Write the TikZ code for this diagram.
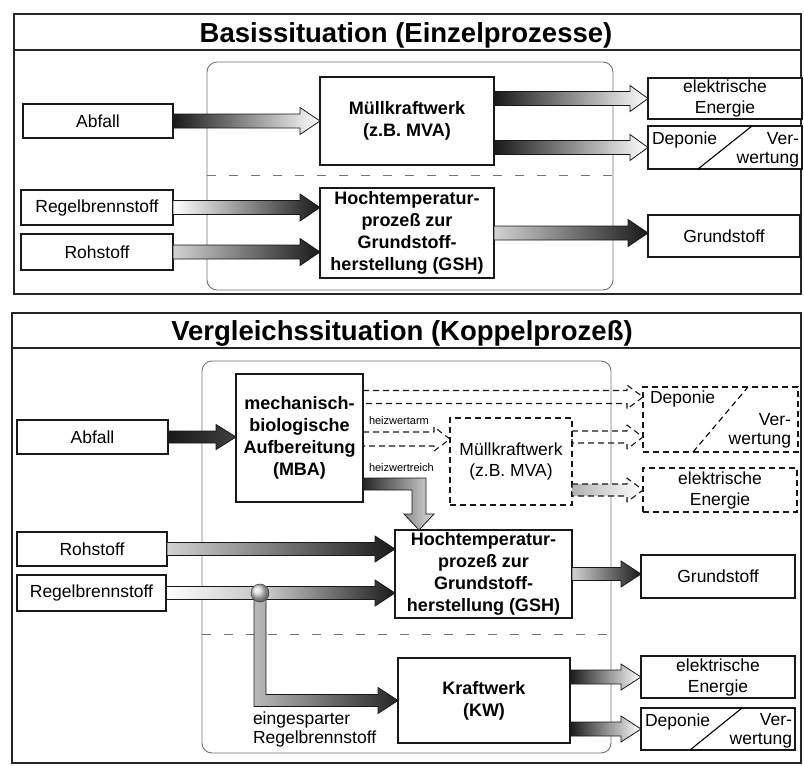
\documentclass[tikz,border=0pt]{standalone}
\usepackage{fontspec}
\setmainfont{Liberation Sans}
\usetikzlibrary{calc}
\newcommand\fatarr[6][]{%
  \path[#1] ($(#2)+(0,-#4)$) -- ($(#3)+(-#6,-#4)$) -- ($(#3)+(-#6,-#5)$) -- (#3)
   -- ($(#3)+(-#6,#5)$) -- ($(#3)+(-#6,#4)$) -- ($(#2)+(0,#4)$) -- cycle;}
\begin{document}
\begin{tikzpicture}[x=1pt,y=-1pt,
  every node/.style={inner sep=0pt,outer sep=0pt},
  panel/.style={draw=black!85,line width=1.4pt},
  bound/.style={draw=black!55,line width=0.9pt,rounded corners=10pt},
  sepline/.style={draw=black!55,line width=1pt,dash pattern=on 9pt off 13pt},
  inbox/.style={draw=black!90,line width=1.3pt,fill=white,font=\fontsize{17.5}{21}\selectfont,align=center},
  procbox/.style={draw=black!90,line width=2.4pt,fill=white,font=\bfseries\fontsize{18}{22}\selectfont,align=center},
  dbox/.style={draw=black!90,line width=1.1pt,dash pattern=on 6pt off 4pt,font=\fontsize{17.5}{21}\selectfont,align=center},
  ttl/.style={font=\bfseries\fontsize{27.5}{32}\selectfont,anchor=base},
  lbl/.style={font=\fontsize{17.5}{19}\selectfont,align=left},
  smalllbl/.style={font=\fontsize{11}{13}\selectfont},
  fat/.style={draw=black!90,line width=0.8pt,line join=miter},
  d2l/.style={fat,left color=black!90,right color=white},
  l2d/.style={fat,left color=gray!35,right color=black!90},
  darr/.style={draw=black!90,line width=1.1pt,dash pattern=on 6pt off 4pt,line join=round},
]
\useasboundingbox (0,0) rectangle (804,766);
% panels
\draw[panel] (14,14) rectangle (801,294);
\draw[panel] (14,50) -- (801,50);
\draw[panel] (12,313) rectangle (801,763);
\draw[panel] (12,348) -- (801,348);
\node[ttl] (t1) at (406,42) {Basissituation (Einzelprozesse)};
\node[ttl] (t2) at (402,340) {Vergleichssituation (Koppelprozeß)};
% system boundaries
\draw[bound] (207,62) rectangle (613,290);
\draw[sepline] (207,175) -- (613,175);
\draw[bound] (202,361) rectangle (611,753);
\draw[sepline] (202,634) -- (611,634);

% ---------- top panel ----------
\node[inbox,minimum width=150,minimum height=34] (abf1) at (98,121) {Abfall};
\node[inbox,minimum width=152,minimum height=35] (rb1) at (97,207.5) {Regelbrennstoff};
\node[inbox,minimum width=152,minimum height=36] (rh1) at (97,252) {Rohstoff};
\node[procbox,minimum width=174,minimum height=88] (mkw1) at (407,121) {Müllkraftwerk\\(z.B. MVA)};
\node[procbox,minimum width=174,minimum height=90] (hts1) at (407,233) {Hochtemperatur-\\prozeß zur\\Grundstoff-\\herstellung (GSH)};
\node[inbox,minimum width=154,minimum height=41] (en1) at (725,98.5) {elektrische\\Energie};
\node[inbox,minimum width=154,minimum height=43] (dep1) at (725,147.5) {};
\draw[line width=1.1pt] ($(dep1.south west)+(50,0)$) -- ($(dep1.north west)+(104,0)$);
\node[lbl,anchor=north west] (dep1a) at ($(dep1.north west)+(4,6)$) {Deponie};
\node[lbl,anchor=south east,align=right] (dep1b) at ($(dep1.south east)+(-3,-2)$) {Ver-\\wertung};
\node[inbox,minimum width=152,minimum height=42] (gs1) at (724,236) {Grundstoff};

\fatarr[d2l]{abf1.east}{mkw1.west |- abf1.east}{7}{13.5}{20}
\fatarr[d2l]{mkw1.east |- en1.west}{en1.west}{7}{13}{18}
\fatarr[d2l]{mkw1.east |- dep1.west}{dep1.west}{7}{13}{18}
\fatarr[fat,left color=white,middle color=gray!35,right color=black!90]{rb1.east}{hts1.west |- rb1.east}{7}{13.5}{20}
\fatarr[l2d]{rh1.east}{hts1.west |- rh1.east}{7}{13.5}{20}
\fatarr[l2d]{hts1.east}{gs1.west |- hts1.east}{7}{13.5}{20}

% ---------- bottom panel ----------
\node[inbox,minimum width=151,minimum height=34] (abf2) at (92.5,437) {Abfall};
\node[inbox,minimum width=150,minimum height=34] (rh2) at (92,549) {Rohstoff};
\node[inbox,minimum width=149,minimum height=36] (rb2) at (91.5,593) {Regelbrennstoff};
\node[procbox,minimum width=127,minimum height=128] (mba) at (299.5,438) {mechanisch-\\biologische\\Aufbereitung\\(MBA)};
\node[procbox,minimum width=177,minimum height=88] (hts2) at (483.5,574) {Hochtemperatur-\\prozeß zur\\Grundstoff-\\herstellung (GSH)};
\node[procbox,minimum width=172,minimum height=85] (kw) at (484,700.5) {Kraftwerk\\(KW)};
\node[inbox,minimum width=154,minimum height=43] (gs2) at (718,576.5) {Grundstoff};
\node[inbox,minimum width=154,minimum height=42] (en2) at (718,677) {elektrische\\Energie};
\node[inbox,minimum width=154,minimum height=42] (dep2) at (718,729) {};
\draw[line width=1.1pt] ($(dep2.south west)+(49,0)$) -- ($(dep2.north west)+(101,0)$);
\node[lbl,anchor=north west] (dep2a) at ($(dep2.north west)+(4,6)$) {Deponie};
\node[lbl,anchor=south east,align=right] (dep2b) at ($(dep2.south east)+(-3,-2)$) {Ver-\\wertung};

% dashed part
\node[dbox,minimum width=122,minimum height=87] (mkw2) at (511,461.5) {Müllkraftwerk\\(z.B. MVA)};
\node[dbox,minimum width=155,minimum height=65] (dep3) at (720.5,419.5) {};
\draw[line width=1.1pt,dash pattern=on 6pt off 4pt] ($(dep3.south west)+(50,0)$) -- ($(dep3.north west)+(105,0)$);
\node[lbl,anchor=north west] (dep3a) at ($(dep3.north west)+(7,4)$) {Deponie};
\node[lbl,anchor=south east,align=right] (dep3b) at ($(dep3.south east)+(-7,-4)$) {Ver-\\wertung};
\node[dbox,minimum width=154,minimum height=44] (en3) at (720,490) {elektrische\\Energie};

\coordinate (d1) at ($(dep3.north west)+(0,10)$);
\coordinate (d2) at ($(dep3.north west)+(0,50)$);
\coordinate (d3) at ($(mkw2.north west)+(0,21)$);
\fatarr[darr]{mba.east |- d1}{d1}{6.5}{12}{16}
\fatarr[darr]{mkw2.east |- d2}{d2}{6}{12}{16}
\fatarr[darr]{mba.east |- d3}{d3}{7}{12}{16}
\fatarr[darr,left color=gray!60,right color=white]{mkw2.east |- en3.west}{en3.west}{6}{12}{16}
\node[smalllbl,anchor=west] (lha) at ($(mba.east |- d3)+(6,-18)$) {heizwertarm};
\node[smalllbl,anchor=west] (lhr) at ($(mba.south east)+(6,-34)$) {heizwertreich};

% heizwertreich bent arrow
\coordinate (T) at ($(hts2.north west)+(24,0)$);
\path[fat,left color=black!85,right color=gray!30]
  ($(mba.south east)+(0,-24)$) -- ($(T)+(7,-52)$) -- ($(T)+(7,-16)$) -- ($(T)+(15,-16)$) -- (T)
  -- ($(T)+(-15,-16)$) -- ($(T)+(-7,-16)$) -- ($(T)+(-7,-40)$) -- ($(mba.south east)+(0,-12)$) -- cycle;

% inputs bottom
\fatarr[fat,left color=black!90,right color=black!75]{abf2.east}{mba.west |- abf2.east}{6}{12.5}{20}
\fatarr[l2d]{rh2.east}{hts2.west |- rh2.east}{6.5}{13}{20}
\coordinate (jn) at (260,593);
\path[fat,left color=white,right color=gray!45] ($(rb2.east)+(0,-6.5)$) rectangle ($(jn)+(0,6.5)$);
\fatarr[l2d]{jn}{hts2.west |- jn}{6.5}{13}{20}
\path[fat,left color=gray!55,right color=black!85]
  ($(jn)+(-6,0)$) -- ($(jn |- kw.west)+(-6,6)$) -- ($(kw.west)+(-20,6)$) -- ($(kw.west)+(-20,13)$) -- (kw.west)
  -- ($(kw.west)+(-20,-13)$) -- ($(kw.west)+(-20,-6)$) -- ($(jn |- kw.west)+(6,-6)$) -- ($(jn)+(6,0)$) -- cycle;
\node[circle,minimum size=18,draw=black!70,line width=0.6pt,ball color=gray!30] (ball) at (jn) {};
\node[lbl,anchor=north west] (lreg) at ($(jn |- kw.west)+(-7,11)$) {eingesparter\\Regelbrennstoff};

% outputs bottom
\fatarr[l2d]{hts2.east}{gs2.west |- hts2.east}{6.5}{13}{20}
\fatarr[d2l]{kw.east |- en2.west}{en2.west}{7}{13}{20}
\fatarr[d2l]{kw.east |- dep2.west}{dep2.west}{7}{13}{20}
\end{tikzpicture}
\end{document}
